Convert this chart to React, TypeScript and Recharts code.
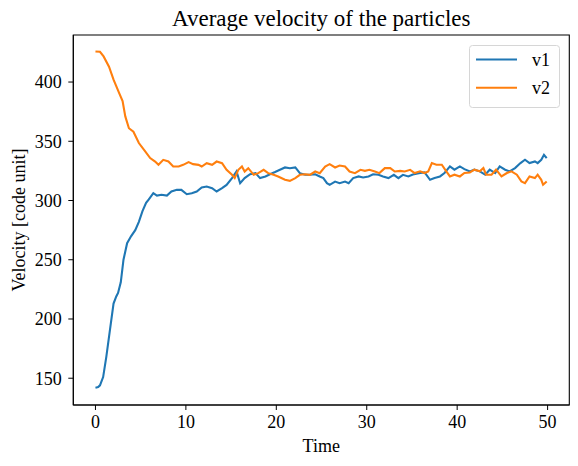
import { Legend, Line, LineChart, ReferenceArea, XAxis, YAxis } from "recharts";

// v1 samples: time and mean velocity
const v1Time = [
  0, 0.3, 0.5, 0.85, 1.2, 1.66, 2.0, 2.3, 2.5, 2.8, 3.1, 3.5, 3.95, 4.4, 4.8,
  5.2, 5.6, 5.86, 6.4, 6.8, 7.3, 7.9, 8.4, 9.0, 9.5, 10.1, 10.65, 11.2, 11.75,
  12.3, 12.9, 13.4, 14.0, 14.5, 15.1, 15.6, 16.0, 16.5, 17.1, 17.7, 18.2, 18.8,
  19.3, 19.86, 20.4, 20.96, 21.5, 22.1, 22.6, 23.2, 23.7, 24.3, 24.8, 25.2,
  25.6, 25.9, 26.5, 27.0, 27.6, 28.0, 28.5, 29.1, 29.6, 30.2, 30.7, 31.3, 31.8,
  32.4, 33.0, 33.5, 34.0, 34.6, 35.1, 35.9, 36.4, 37.0, 37.5, 38.1, 38.6, 39.2,
  39.7, 40.3, 40.8, 41.4, 41.9, 42.5, 43.1, 43.6, 44.2, 44.7, 45.3, 45.8, 46.4,
  47.0, 47.5, 48.0, 48.6, 48.9, 49.3, 49.6, 49.9,
];
const v1 = [
  142, 142.5, 144, 151, 168, 194, 213, 219, 222, 231, 250, 264, 270, 275, 282,
  291, 298, 300.6, 306.2, 304.2, 304.8, 304.2, 307.6, 309, 309, 305.3, 306.2,
  307.6, 311, 311.8, 310.4, 307.6, 310.4, 313.2, 318.9, 324.5, 314.6, 318.9,
  322.2, 323.1, 318.9, 320.3, 322.2, 324, 325.9, 327.9, 327.3, 327.9, 323.1,
  321.7, 321.7, 322.2, 320.3, 318.9, 314.6, 313.2, 316, 314.6, 316, 314.6,
  318.9, 320.3, 319.4, 320.3, 322.2, 321.7, 320.3, 318.9, 321.7, 318.9, 321.7,
  320.3, 322, 323.2, 323.7, 317.5, 318.9, 320.3, 323.2, 328.8, 326, 328.8,
  326.5, 324.6, 326, 324.6, 321.8, 326, 323.2, 328.8, 326, 324.6, 327.4, 331.6,
  334.4, 331.6, 333, 331.6, 334.4, 338.6, 335.8,
];

// v2 samples: time and mean velocity
const v2Time = [
  0, 0.5, 0.9, 1.5, 2.0, 2.6, 3.0, 3.3, 3.7, 4.2, 4.8, 5.5, 6.05, 6.6, 6.97,
  7.5, 8.07, 8.6, 9.2, 9.7, 10.3, 10.8, 11.4, 11.75, 12.3, 12.9, 13.4, 14.0,
  14.5, 15.1, 15.4, 15.8, 16.2, 16.5, 16.9, 17.5, 18.0, 18.6, 19.1, 19.7, 20.2,
  20.96, 21.5, 22.1, 22.6, 23.2, 23.7, 24.3, 24.8, 25.4, 25.9, 26.5, 27.0,
  27.6, 28.1, 28.7, 29.3, 29.8, 30.3, 30.9, 31.4, 32.0, 32.6, 33.1, 33.7,
  34.2, 34.8, 35.3, 35.9, 36.4, 36.8, 37.2, 37.7, 38.3, 38.8, 39.2, 39.7,
  40.3, 40.8, 41.4, 41.9, 42.5, 42.9, 43.2, 43.8, 44.3, 44.9, 45.5, 46.0,
  46.6, 47.1, 47.5, 48.0, 48.6, 48.9, 49.3, 49.5, 49.9,
];
const v2 = [
  425.8, 425.5, 421.6, 413, 402, 391, 384, 371, 361, 358, 348.5, 341.4, 335.8,
  332.9, 330.1, 334.3, 332.9, 328.7, 328.7, 330.1, 332.4, 330.7, 330.1, 328.7,
  331.5, 330.1, 332.9, 331.5, 325.9, 321.7, 318.9, 325.9, 328.7, 324.5, 327.3,
  321.7, 323.1, 325.9, 323.1, 321.7, 320.3, 317.5, 316.6, 318.9, 321.7, 322.2,
  321.7, 324.5, 323.1, 328.7, 330.7, 327.9, 329.5, 328.7, 324.5, 323.1, 325.9,
  325, 325.9, 324.5, 323.1, 327.3, 327.3, 324.5, 325, 324.5, 325.9, 323.2,
  324.6, 323.2, 324.6, 331.6, 330.2, 330.2, 324.6, 320.3, 321.8, 320.3, 323.2,
  323.7, 326, 324.6, 327.4, 321.8, 321.8, 326, 320.3, 323.2, 324.6, 321.8,
  316.1, 314.7, 320.3, 318.9, 321.8, 317.5, 313.3, 316.1,
];

const xTicks = [0, 10, 20, 30, 40, 50];
const yTicks = [150, 200, 250, 300, 350, 400];

const series = [
  {
    key: "v1",
    color: "#1f77b4",
    points: v1Time.map((t, i) => ({ t, value: v1[i] })),
  },
  {
    key: "v2",
    color: "#ff7f0e",
    points: v2Time.map((t, i) => ({ t, value: v2[i] })),
  },
];

const FONT = "'Liberation Serif', 'Times New Roman', serif";
const X_DOMAIN: [number, number] = [-2.45, 52.4];
const Y_DOMAIN: [number, number] = [127.4, 439.7];

const XTick = ({ x, y, payload }: any) => (
  <text
    x={x}
    y={y}
    dy="0.71em"
    textAnchor="middle"
    fontSize={18}
    fontFamily={FONT}
    fill="#000"
  >
    {payload.value}
  </text>
);

const YTick = ({ x, y, payload }: any) => (
  <text
    x={x}
    y={y}
    dy="0.355em"
    textAnchor="end"
    fontSize={18}
    fontFamily={FONT}
    fill="#000"
  >
    {payload.value}
  </text>
);

const LegendBox = () => (
  <svg width={92} height={64} style={{ display: "block" }}>
    <rect
      x={0.5}
      y={0.5}
      width={90}
      height={62}
      rx={3}
      fill="#fff"
      stroke="#d6d6d6"
    />
    {series.map((s, i) => (
      <g key={s.key}>
        <line
          x1={7}
          x2={48}
          y1={14.5 + i * 28.3}
          y2={14.5 + i * 28.3}
          stroke={s.color}
          strokeWidth={2.1}
        />
        <text
          x={63}
          y={21 + i * 28.3}
          fontSize={18}
          fontFamily={FONT}
          fill="#000"
        >
          {s.key}
        </text>
      </g>
    ))}
  </svg>
);

export default function App() {
  return (
    <div
      style={{
        position: "absolute",
        left: 0,
        top: 0,
        width: 578,
        height: 466,
        background: "#fff",
      }}
    >
      <LineChart
        width={578}
        height={466}
        margin={{ top: 35, right: 8.7, bottom: 31, left: 13.3 }}
      >
        <XAxis
          dataKey="t"
          type="number"
          domain={X_DOMAIN}
          ticks={xTicks}
          allowDataOverflow
          height={30}
          stroke="#000"
          tick={<XTick />}
          tickSize={5}
          tickMargin={5}
        />
        <YAxis
          type="number"
          domain={Y_DOMAIN}
          ticks={yTicks}
          allowDataOverflow
          width={60}
          stroke="#000"
          tick={<YTick />}
          tickSize={5}
          tickMargin={6.6}
        />
        {/* closes the axes box on the top and right */}
        <ReferenceArea
          x1={X_DOMAIN[0]}
          x2={X_DOMAIN[1]}
          y1={Y_DOMAIN[0]}
          y2={Y_DOMAIN[1]}
          fill="none"
          stroke="#000"
          strokeWidth={1.1}
          ifOverflow="visible"
        />
        {series.map((s) => (
          <Line
            key={s.key}
            data={s.points}
            dataKey="value"
            name={s.key}
            stroke={s.color}
            strokeWidth={2.1}
            dot={false}
            type="linear"
            isAnimationActive={false}
          />
        ))}
        <Legend
          layout="horizontal"
          verticalAlign="middle"
          content={() => <LegendBox />}
          wrapperStyle={{ left: 469, top: 45, width: 92, height: 64 }}
        />
        <text
          x={321.3}
          y={26}
          textAnchor="middle"
          fontSize={23}
          fontFamily={FONT}
          fill="#000"
        >
          Average velocity of the particles
        </text>
        <text
          x={321.3}
          y={452}
          textAnchor="middle"
          fontSize={18}
          fontFamily={FONT}
          fill="#000"
        >
          Time
        </text>
        <text
          x={25}
          y={220}
          textAnchor="middle"
          transform="rotate(-90 25 220)"
          fontSize={18}
          fontFamily={FONT}
          fill="#000"
        >
          Velocity [code unit]
        </text>
      </LineChart>
    </div>
  );
}
